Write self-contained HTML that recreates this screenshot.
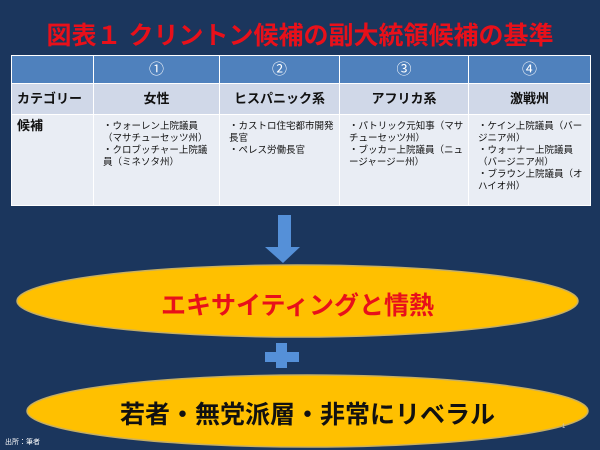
<!DOCTYPE html>
<html style="height:450px;overflow:hidden"><head><meta charset="utf-8"><style>
body{margin:0;width:600px;height:450px;background:#1b365d;position:relative;overflow:hidden;font-family:"Liberation Sans","Noto Sans CJK JP",sans-serif}
.t{position:absolute;left:0;width:600px;text-align:center;top:16px;color:#e8101a;font-size:25px;font-weight:bold}
table{position:absolute;left:11px;top:55px;width:580px;border-collapse:collapse;font-size:9.5px;line-height:12px}
td{border:1px solid #fff;vertical-align:top;padding:0}
tr.h td{background:#4f81bd;height:27px;color:#fff;text-align:center;vertical-align:middle;font-size:15px}
tr.c td{background:#d0d8e8;height:30px;text-align:center;vertical-align:middle;font-size:13px;font-weight:bold;color:#111}
tr.c td:first-child{text-align:left;padding-left:5px}
tr.d td{background:#e9edf4;height:84px;color:#111;padding:6px 3px 0 9px}
tr.d td:first-child{font-size:13px;font-weight:bold;padding-left:5px;padding-top:5px}
.tx{position:absolute;text-align:center;font-weight:bold;font-size:25px}
.s{position:absolute;left:5px;top:437px;color:#fff;font-size:7px}
</style></head><body>
<div class="t">図表１ クリントン候補の副大統領候補の基準</div>
<table>
<tr class="h"><td style="width:81px"></td><td style="width:125px">①</td><td style="width:119px">②</td><td style="width:128px">③</td><td>④</td></tr>
<tr class="c"><td>カテゴリー</td><td>女性</td><td>ヒスパニック系</td><td>アフリカ系</td><td>激戦州</td></tr>
<tr class="d"><td>候補</td><td>・ウォーレン上院議員（マサチューセッツ州）<br>・クロブッチャー上院議員（ミネソタ州）</td><td>・カストロ住宅都市開発長官<br>・ペレス労働長官</td><td>・パトリック元知事（マサチューセッツ州）<br>・ブッカー上院議員（ニュージャージー州）</td><td>・ケイン上院議員（バージニア州）<br>・ウォーナー上院議員（バージニア州）<br>・ブラウン上院議員（オハイオ州）</td></tr>
</table>
<svg style="position:absolute;left:0;top:0" width="600" height="450">
<polygon points="278,215 291,215 291,247 300,247 283,263 265,247 278,247" fill="#5590d8"/>
<rect x="265" y="352" width="34" height="10" fill="#5590d8"/>
<rect x="276" y="343" width="11" height="25" fill="#5590d8"/>
<ellipse cx="297.5" cy="301" rx="280.5" ry="36" fill="#ffc000" stroke="#c9b060" stroke-width="1.5"/>
<ellipse cx="307.5" cy="411" rx="280.5" ry="36" fill="#ffc000" stroke="#c9b060" stroke-width="1.5"/>
</svg>
<div class="tx" style="left:17px;top:286px;width:561px;color:#e8101a">エキサイティングと情熱</div>
<div class="tx" style="left:27px;top:395px;width:561px;color:#111">若者・無党派層・非常にリベラル</div>
<div class="s">出所：筆者</div>
<div style="position:absolute;left:562px;top:424px;color:#ccc;font-size:6px">1</div>
</body></html>
